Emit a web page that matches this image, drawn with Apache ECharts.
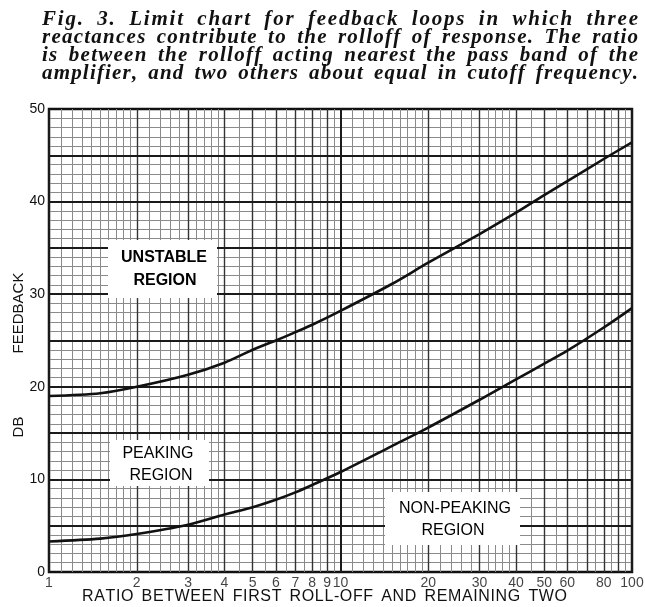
<!DOCTYPE html>
<html>
<head>
<meta charset="utf-8">
<script src="https://cdn.jsdelivr.net/npm/echarts@6/dist/echarts.min.js"></script>
<style>
  html, body { margin: 0; padding: 0; background: #fff; }
  #main { width: 645px; height: 607px; }
</style>
</head>
<body>
<div id="main"></div>
<script>
// ratio between first roll-off and the remaining two
var ratio = [1, 1.5, 2, 3, 4, 5, 6, 7, 8, 10, 15, 20, 30, 40, 50, 60, 80, 100];
// upper curve: limit of stability (DB feedback)
var unstableLimit = [19.0, 19.3, 20.0, 21.3, 22.6, 24.0, 25.0, 25.9, 26.7, 28.2, 31.1, 33.4, 36.5, 38.8, 40.7, 42.2, 44.6, 46.4];
// lower curve: limit of peaking (DB feedback)
var peakingLimit = [3.3, 3.6, 4.1, 5.1, 6.2, 7.0, 7.8, 8.6, 9.4, 10.8, 13.6, 15.6, 18.6, 20.8, 22.5, 23.9, 26.4, 28.5];

var xTickLabels = [1, 2, 3, 4, 5, 6, 7, 8, 9, 10, 20, 30, 40, 50, 60, 80, 100];
var yTickLabels = [0, 10, 20, 30, 40, 50];

var titleLines = [
  'Fig. 3. Limit chart for feedback loops in which three',
  'reactances contribute to the rolloff of response. The ratio',
  'is between the rolloff acting nearest the pass band of the',
  'amplifier, and two others about equal in cutoff frequency.'
];

// graph paper rulings
var xFine = [], xMid = [], xHeavy = [1, 10, 100];
[1, 10].forEach(function (d) {
  for (var i = 1; i < 10; i++) xFine.push(+(d * (1 + i / 10)).toFixed(2));
  for (var v = 2.2; v < 4; v += 0.2) { if (Math.abs(v - Math.round(v)) > 1e-6) xFine.push(+(d * v).toFixed(2)); }
  for (var v = 4.5; v < 10; v += 1) xFine.push(d * v);
  for (var k = 2; k < 10; k++) xMid.push(d * k);
});
var yFine = [], yMid = [];
for (var i = 1; i < 50; i++) {
  if (i % 5 === 0) yMid.push(i);
  else yFine.push(i);
}

function rulings(xs, ys, color, width, z) {
  var data = xs.map(function (v) { return { xAxis: v }; })
    .concat(ys.map(function (v) { return { yAxis: v }; }));
  return {
    type: 'line', data: [], z: z, silent: true,
    markLine: {
      silent: true, animation: false, symbol: ['none', 'none'],
      label: { show: false }, emphasis: { disabled: true },
      lineStyle: { color: color, width: width, type: 'solid' },
      data: data
    }
  };
}

// spread a line of type between two x positions, like the printed caption
var ctx = document.createElement('canvas').getContext('2d');
function justify(text, font, left, right, y, spaceWeight) {
  ctx.font = font;
  var chars = text.split('');
  var widths = chars.map(function (c) { return ctx.measureText(c).width; });
  var total = widths.reduce(function (a, b) { return a + b; }, 0);
  var units = 0;
  chars.forEach(function (c, i) { if (i < chars.length - 1) units += c === ' ' ? spaceWeight : 1; });
  var unit = (right - left - total) / units;
  var x = left, out = [];
  chars.forEach(function (c, i) {
    if (c !== ' ') {
      out.push({ type: 'text', x: x, y: y, silent: true,
        style: { text: c, font: font, fill: '#111', align: 'left', verticalAlign: 'middle' } });
    }
    x += widths[i] + (c === ' ' ? spaceWeight : 1) * unit;
  });
  return out;
}

var titleFont = 'italic bold 21px "Liberation Serif"';
var graphics = [];
var titleY = [20, 38, 56, 74];
titleLines.forEach(function (t, i) {
  graphics = graphics.concat(justify(t, titleFont, 42, 638, titleY[i], 4));
});
graphics = graphics.concat(justify('RATIO BETWEEN FIRST ROLL-OFF AND REMAINING TWO',
  '16px "Liberation Sans"', 82, 567, 597, 5));

function box(x, y, w, h) {
  return { type: 'rect', shape: { x: x, y: y, width: w, height: h }, z: 50, silent: true,
    style: { fill: '#fff' } };
}
function label(text, x, y, weight) {
  return { type: 'text', x: x, y: y, z: 51, silent: true,
    style: { text: text, font: weight + ' 16px "Liberation Sans"', fill: '#000',
      align: 'center', verticalAlign: 'middle' } };
}
graphics.push(box(108, 240, 109, 58), label('UNSTABLE', 164, 258, 'bold'), label('REGION', 165, 281, 'bold'));
graphics.push(box(110, 440, 99, 46), label('PEAKING', 158, 454, '500'), label('REGION', 161, 476, '500'));
graphics.push(box(385, 492, 135, 53), label('NON-PEAKING', 455, 509, '500'), label('REGION', 453, 531, '500'));
graphics.push({ type: 'text', x: 19, y: 313, rotation: Math.PI / 2, silent: true,
  style: { text: 'FEEDBACK', font: '15px "Liberation Sans"', fill: '#111', align: 'center', verticalAlign: 'middle' } });
graphics.push({ type: 'text', x: 19, y: 427, rotation: Math.PI / 2, silent: true,
  style: { text: 'DB', font: '15px "Liberation Sans"', fill: '#111', align: 'center', verticalAlign: 'middle' } });

var chart = echarts.init(document.getElementById('main'));
chart.setOption({
  animation: false,
  backgroundColor: '#fff',
  grid: { left: 49, right: 13, top: 109, bottom: 35, show: true, borderColor: '#111', borderWidth: 2.5, backgroundColor: 'transparent' },
  xAxis: {
    type: 'log', logBase: 10, min: 1, max: 100,
    axisLine: { show: false }, axisTick: { show: false },
    axisLabel: { show: false }, splitLine: { show: false }
  },
  yAxis: {
    type: 'value', min: 0, max: 50, interval: 10,
    axisLine: { show: false }, axisTick: { show: false }, splitLine: { show: false },
    axisLabel: {
      margin: 4, color: '#111', fontSize: 14, fontFamily: 'Liberation Sans',
      formatter: function (v) { return yTickLabels.indexOf(v) >= 0 ? String(v) : ''; }
    }
  },
  graphic: graphics,
  series: [
    rulings(xFine, yFine, '#8a8a8a', 1, 1),
    rulings(xMid, [], '#333', 1.4, 2),
    rulings(xHeavy, yMid, '#1a1a1a', 2, 3),
    {
      type: 'line', data: ratio.map(function (r, i) { return [r, unstableLimit[i]]; }),
      smooth: 0.3, symbol: 'none', z: 10, lineStyle: { color: '#111', width: 2.6 }
    },
    {
      type: 'line', data: ratio.map(function (r, i) { return [r, peakingLimit[i]]; }),
      smooth: 0.3, symbol: 'none', z: 10, lineStyle: { color: '#111', width: 2.6 }
    },
    {
      type: 'scatter', clip: false, silent: true, symbolSize: 1, z: 5,
      itemStyle: { color: 'rgba(0,0,0,0)' },
      data: xTickLabels.map(function (v) { return [v, 0]; }),
      label: {
        show: true, position: 'bottom', distance: 4, color: '#111', fontSize: 14, fontFamily: 'Liberation Sans',
        formatter: function (p) { return String(p.value[0]); }
      }
    }
  ]
});
</script>
</body>
</html>
